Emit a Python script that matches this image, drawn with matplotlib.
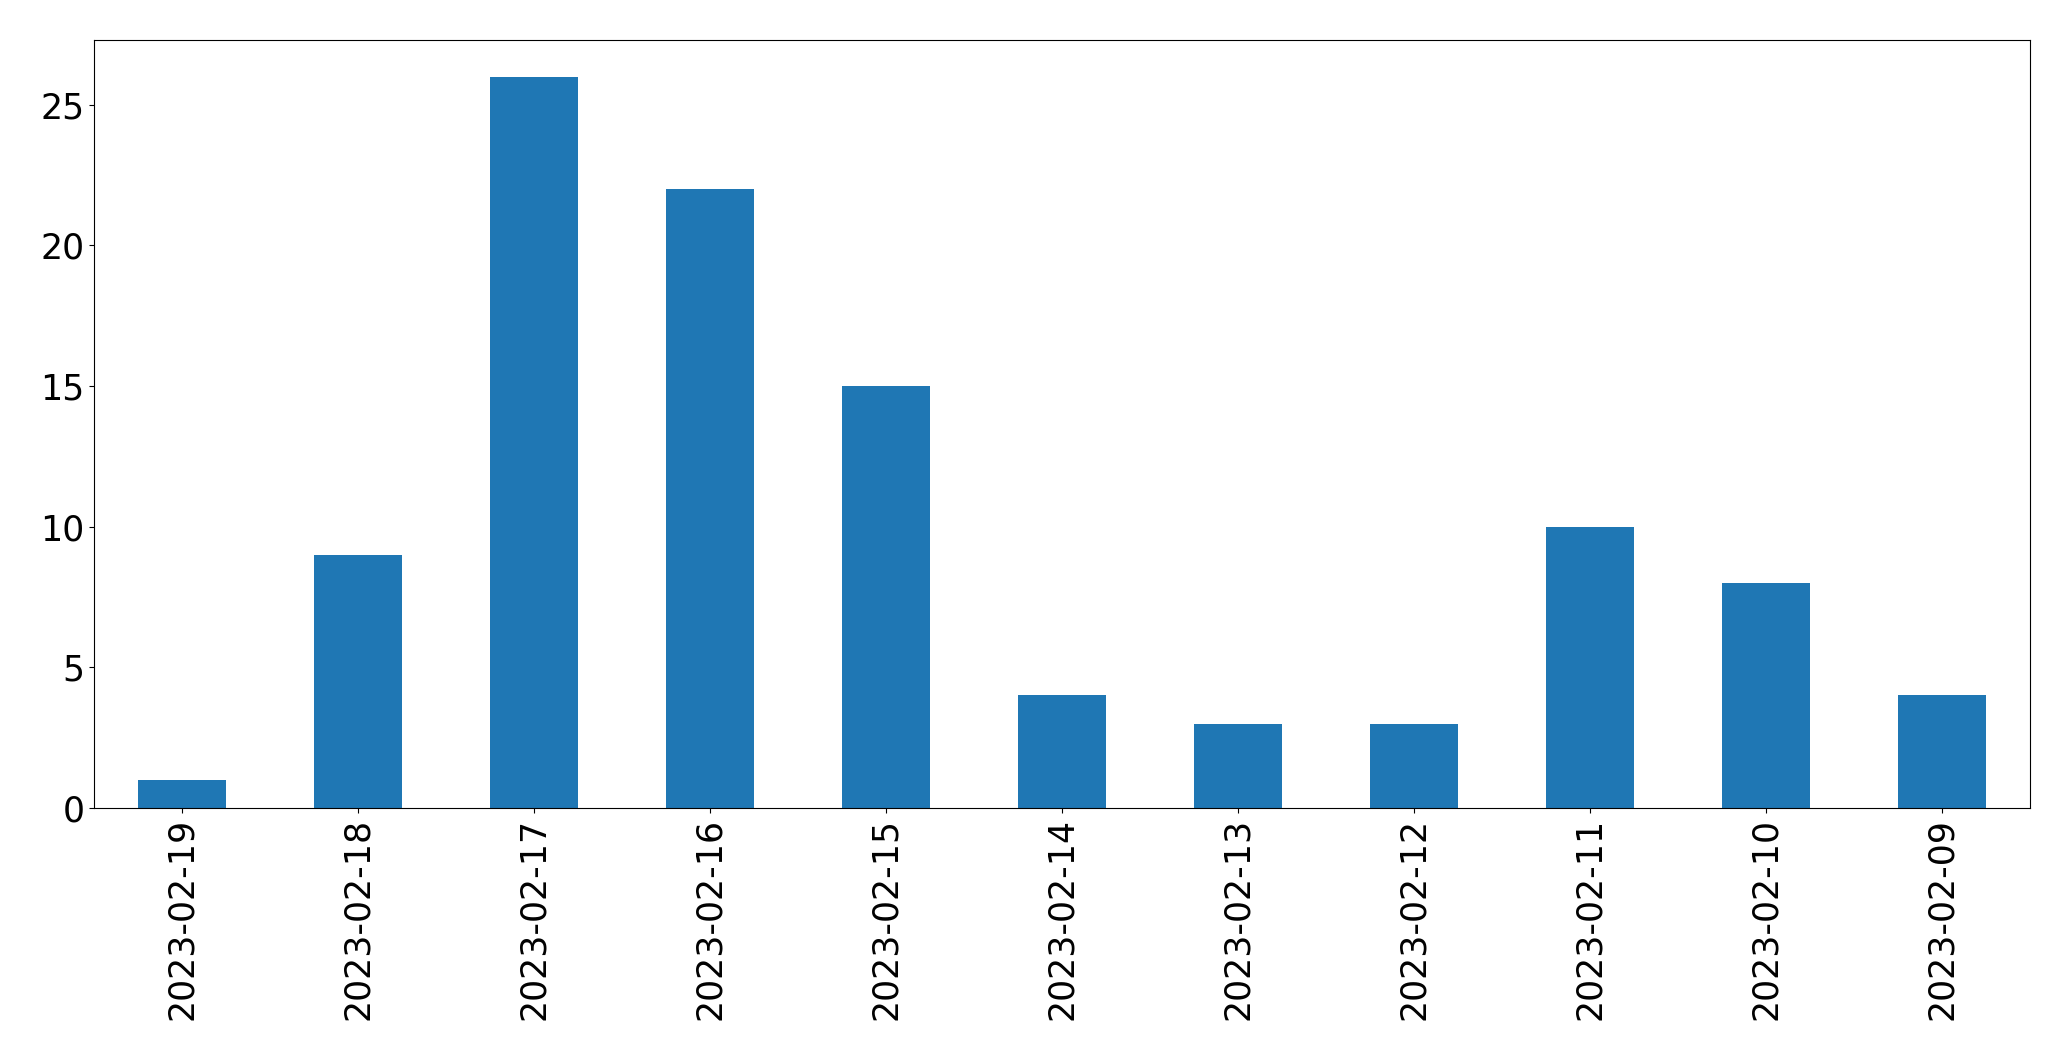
import pandas as pd
from matplotlib import pyplot as plt

dates = ['2023-02-19', '2023-02-18', '2023-02-17', '2023-02-16', '2023-02-15',
         '2023-02-14', '2023-02-13', '2023-02-12', '2023-02-11', '2023-02-10',
         '2023-02-09']
counts = [1, 9, 26, 22, 15, 4, 3, 3, 10, 8, 4]

s = pd.Series(counts, index=dates)

fig, ax = plt.subplots(figsize=(20.71, 10.61), dpi=100)
s.plot.bar(ax=ax, color='#1f77b4', fontsize=25)
fig.subplots_adjust(left=94 / 2071, right=2030 / 2071, top=1 - 40 / 1061, bottom=1 - 808 / 1061)
plt.savefig('out.png', dpi=100)
